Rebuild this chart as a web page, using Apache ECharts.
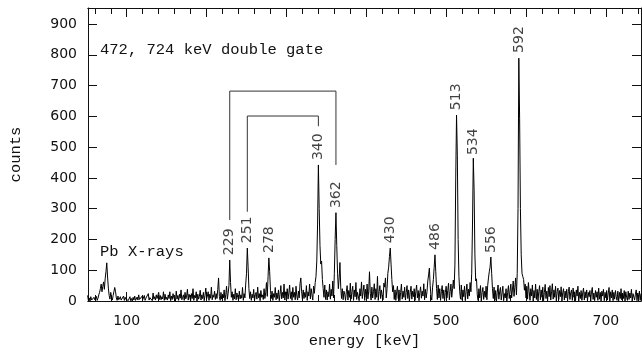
<!DOCTYPE html>
<html>
<head>
<meta charset="utf-8">
<script src="https://cdn.jsdelivr.net/npm/echarts@6/dist/echarts.min.js"></script>
<style>html,body{margin:0;padding:0;background:#fff}#c{width:642px;height:355px}</style>
</head>
<body>
<div id="c"></div>
<script>
// spectrum: counts per 1 keV channel, starting at E0 keV
var E0 = 51;
var countsA = [ // 51-150
18,2,10,0,14,3,8,1,12,4, 6,15,2,9,20,28,40,55,30,48,
62,38,72,95,124,78,42,18,6,28, 10,3,18,24,44,30,10,2,16,4,
0,14,3,9,1,16,2,12,5,0, 9,2,6,14,1,8,0,12,3,16,
2,7,13,3,20,5,10,0,15,4, 6,18,2,9,15,4,24,3,11,5,
16,1,26,6,14,3,20,8,2,28, 5,18,4,14,7,30,2,22,5,12
];
var countsB = [ // 151-250
3,20,8,30,1,16,5,24,10,14, 0,32,6,18,2,22,9,36,4,12,
20,2,28,7,16,38,3,22,12,1, 24,8,40,2,18,10,30,0,22,6,
15,35,3,20,8,28,1,18,42,7, 16,30,2,22,9,45,4,20,12,32,
5,24,8,38,75,15,2,28,6,22, 10,36,1,20,48,6,25,50,133,60,
12,30,2,22,7,40,4,26,12,3, 32,7,20,9,44,2,24,10,55,90
];
var countsC = [ // 251-350
172,110,40,8,30,2,22,10,38,0, 20,28,6,45,10,24,1,34,12,20,
5,40,8,26,60,15,80,140,95,35, 8,32,2,24,12,44,4,26,8,36,
1,22,50,7,28,10,55,3,30,14, 40,6,26,52,8,30,2,44,12,28,
4,48,16,3,32,10,56,75,30,5, 36,8,28,12,50,2,30,16,55,7,
40,20,3,48,25,60,80,130,250,442, 300,180,120,130,70,40,12,52,5,36
];
var countsD = [ // 351-450
3,30,14,55,6,38,16,65,10,90, 200,287,180,90,40,75,125,45,8,40,
4,32,22,2,30,50,3,34,12,58, 6,30,48,2,36,14,60,5,28,22,
1,40,16,62,8,30,52,2,38,12, 55,7,32,95,25,3,45,10,30,56,
5,40,12,80,2,30,50,8,36,16, 4,58,45,75,10,40,90,110,145,172,
120,70,30,50,5,36,2,30,48,8, 36,1,28,55,6,32,12,45,3,28
];
var countsE = [ // 451-550
50,8,36,0,28,48,6,32,14,40, 2,30,52,10,34,1,28,46,9,32,
16,56,4,38,10,30,65,85,107,50, 15,3,45,70,110,150,95,40,5,52,
10,40,2,30,50,8,36,1,28,48, 10,34,58,4,30,55,12,40,68,40,
120,400,604,474,200,80,30,6,52,3, 36,14,48,1,30,55,7,38,16,60,
30,90,250,464,360,150,65,72,20,2, 40,10,50,0,28,44,5,32,12,48
];
var countsF = [ // 551-650
4,50,75,95,110,143,90,40,8,45, 2,34,0,28,52,6,30,44,3,26,
48,1,24,10,40,0,28,50,8,32, 55,10,36,65,15,45,75,20,90,300,
789,594,300,150,90,79,70,35,55,10, 48,6,60,30,2,40,16,52,0,34,
10,55,5,38,0,30,50,4,36,12, 45,1,28,54,8,32,0,44,14,50,
3,30,56,6,36,12,48,0,30,42, 5,34,14,46,0,28,40,3,32,10
];
var countsG = [ // 651-744
38,0,30,45,5,26,36,2,42,12, 30,1,36,16,48,0,28,8,34,2,
26,42,3,30,10,36,0,28,14,34, 0,30,44,5,26,1,34,12,30,2,
42,6,28,0,32,16,38,1,28,10, 34,3,26,44,0,30,10,36,1,28,
6,34,14,2,32,0,28,8,40,3, 26,8,34,0,30,12,2,32,5,26,
10,38,0,24,30,3,22,36,1,26, 8,32,2,24
];

// peak labels
var peakNames  = ['229','251','278','340','362','430','486','513','534','556','592'];
var peakEnergy = [229, 251, 278, 340, 362, 430, 486, 513, 534, 556, 592];
var peakLabelY = [149, 188, 156, 458, 302, 188, 166, 620, 474, 156, 806];

// gate brackets [energy, counts]
var bracketOuter = [[229,263],[229,682],[362,682],[362,442]];
var bracketInner = [[251,290],[251,601],[340,601],[340,568]];

// axis ticks
var xMajor = [100,200,300,400,500,600,700];
var xMinor = [60,80,120,140,160,180,220,240,260,280,320,340,360,380,420,440,460,480,520,540,560,580,620,640,660,680,720,740];
var yMajor = [0,100,200,300,400,500,600,700,800,900];

var counts = [].concat(countsA,countsB,countsC,countsD,countsE,countsF,countsG);
var spectrum = counts.map(function(v,i){ return [E0+i, v]; });
var peaks = peakEnergy.map(function(e,i){ return {value:[e, peakLabelY[i]], name:peakNames[i]}; });

var XMIN = 51.5, XMAX = 744, YMAX = 952;
var sansFont = 'DejaVu Sans';
var monoFont = 'Liberation Mono';
function xAx(pos, ticks, len, labels){
  return {
    type:'value', position:pos, min:XMIN, max:XMAX,
    axisLine:{show:true, lineStyle:{color:'#111', width:1}},
    axisTick:{show:true, inside:true, length:len, customValues:ticks, lineStyle:{color:'#111'}},
    axisLabel:labels ? {show:true, customValues:xMajor, margin:13, color:'#111', fontFamily:sansFont, fontSize:14} : {show:false},
    splitLine:{show:false}
  };
}
var chart = echarts.init(document.getElementById('c'), null, {renderer:'canvas'});
var xa0 = xAx('bottom', xMajor, 9, true);
xa0.name = 'energy [keV]';
xa0.nameLocation = 'middle';
xa0.nameGap = 32;
xa0.nameTextStyle = {fontFamily:monoFont, fontSize:15.5, color:'#111'};
chart.setOption({
  animation:false,
  grid:{left:88, right:1, top:8, bottom:54},
  xAxis:[
    xa0,
    xAx('bottom', xMinor, 6, false),
    xAx('top', xMajor, 9, false),
    xAx('top', xMinor, 6, false)
  ],
  yAxis:[
    {type:'value', position:'left', min:0, max:YMAX,
     name:'counts', nameLocation:'middle', nameGap:64, nameRotate:90,
     nameTextStyle:{fontFamily:monoFont, fontSize:15.5, color:'#111'},
     axisLine:{show:true, lineStyle:{color:'#111'}},
     axisTick:{show:true, inside:true, length:9, customValues:yMajor, lineStyle:{color:'#111'}},
     axisLabel:{show:true, customValues:yMajor, margin:11, color:'#111', fontFamily:sansFont, fontSize:14},
     splitLine:{show:false}},
    {type:'value', position:'right', min:0, max:YMAX,
     axisLine:{show:true, lineStyle:{color:'#111'}},
     axisTick:{show:true, inside:true, length:9, customValues:yMajor, lineStyle:{color:'#111'}},
     axisLabel:{show:false}, splitLine:{show:false}}
  ],
  graphic:[
    {type:'text', left:100, top:42, style:{text:'472, 724 keV double gate', font:'15.5px "Liberation Mono"', fill:'#111'}},
    {type:'text', left:100, top:244, style:{text:'Pb X-rays', font:'15.5px "Liberation Mono"', fill:'#111'}}
  ],
  series:[
    {type:'line', data:spectrum, showSymbol:false, symbol:'none', sampling:null,
     lineStyle:{color:'#000', width:1}, z:3},
    {type:'line', data:bracketOuter, showSymbol:false, symbol:'none',
     lineStyle:{color:'#333', width:1}},
    {type:'line', data:bracketInner, showSymbol:false, symbol:'none',
     lineStyle:{color:'#333', width:1}},
    {type:'scatter', data:peaks, symbolSize:0,
     label:{show:true, position:'inside', rotate:90, align:'left', verticalAlign:'middle',
            formatter:function(p){return p.name;}, color:'#111', fontFamily:sansFont, fontSize:14}}
  ]
});
</script>
</body>
</html>
